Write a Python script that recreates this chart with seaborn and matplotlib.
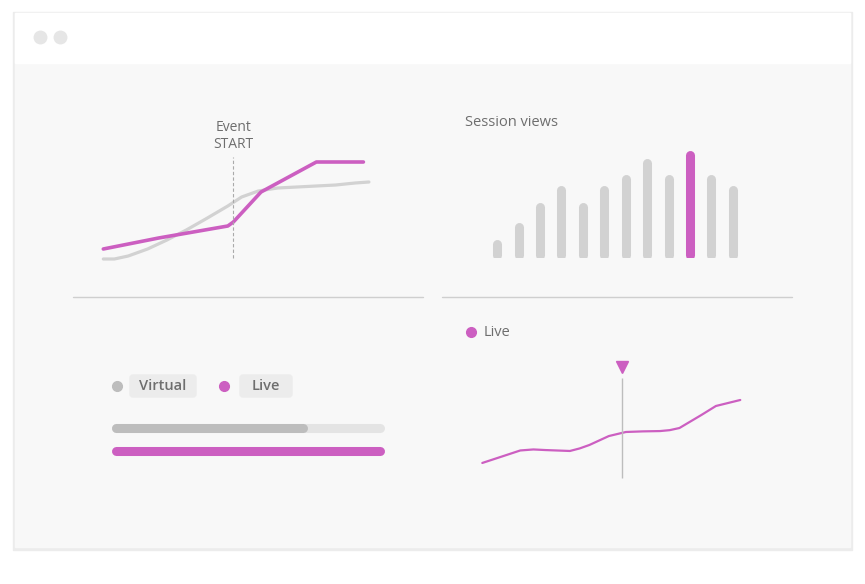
import matplotlib
matplotlib.use("Agg")
import matplotlib.pyplot as plt
from matplotlib.patches import FancyBboxPatch, Rectangle
import seaborn as sns
import pandas as pd

sns.set_style("white")
plt.rcParams["font.family"] = "Open Sans"

PINK = "#cc5fc1"
GRAY = "#d2d2d2"
TEXT = "#6e6e6e"

# top-left: event chart
live_x = [0, 2, 4.5, 4.7, 5.7, 7.7, 9.4]
live_y = [1.6, 2.7, 3.9, 4.3, 7.3, 10.3, 10.3]
virt_x = [0, 0.4, 0.9, 1.6, 2.3, 3.0, 3.7, 4.5, 5.0, 5.6, 6.3, 7.0, 7.7, 8.4, 9.1, 9.6]
virt_y = [0.6, 0.6, 0.9, 1.6, 2.5, 3.5, 4.6, 5.9, 6.8, 7.4, 7.7, 7.8, 7.9, 8.0, 8.2, 8.3]
event_x = 4.7

# top-right: session views
sessions = list(range(1, 13))
views = [14, 31, 51, 68, 51, 68, 79, 95, 79, 103, 79, 68]
highlight = 10

# bottom-left: progress bars
virtual_share = 0.71
live_share = 1.0

# bottom-right: live trend
trend_x = [0, 0.8, 1.56, 2.1, 2.6, 3.6, 4.0, 4.4, 5.2, 5.9, 6.6, 7.3, 7.7, 8.1, 9.0, 9.6, 10.6]
trend_y = [1.37, 2.0, 2.6, 2.7, 2.64, 2.55, 2.8, 3.14, 4.02, 4.42, 4.48, 4.51, 4.6, 4.81, 6.09, 6.98, 7.57]
marker_x = 5.76

W, H = 865, 584
fig = plt.figure(figsize=(W / 100, H / 100), dpi=100)
fig.patch.set_facecolor("white")


def ax_at(x0, y0, x1, y1):
    ax = fig.add_axes([x0 / W, 1 - y1 / H, (x1 - x0) / W, (y1 - y0) / H])
    ax.set_facecolor("none")
    ax.axis("off")
    return ax


# window frame
bg = ax_at(0, 0, W, H)
bg.set_xlim(0, W)
bg.set_ylim(H, 0)
bg.add_patch(Rectangle((13, 12), 839, 538, color="#ececec", zorder=0))
bg.add_patch(Rectangle((15, 13), 835, 534, color="#f8f8f8", zorder=1))
bg.add_patch(Rectangle((15, 13), 835, 50, color="white", zorder=2))
for cx in (40, 60):
    bg.plot(cx, 37, "o", ms=9, color="#e6e6e6", zorder=3)
bg.plot([73, 423], [297, 297], color="#cfcfcf", lw=1, zorder=3)
bg.plot([442, 792], [297, 297], color="#cfcfcf", lw=1, zorder=3)
bg.plot(471, 332, "o", ms=7, color=PINK, zorder=3)

# event chart
ax1 = ax_at(95, 115, 380, 275)
sns.lineplot(x=virt_x, y=virt_y, sort=False, color=GRAY, lw=2.3, ax=ax1)
sns.lineplot(x=live_x, y=live_y, sort=False, color=PINK, lw=2.6, ax=ax1)
ax1.vlines(event_x, 0.7, 10.8, color="#aaaaaa", lw=0.8, linestyles=(0, (3, 2)))
ax1.text(event_x, 12.9, "Event\nSTART", ha="center", va="center", color=TEXT, fontsize=10, linespacing=1.15)
ax1.set_xlim(-0.3, 10)
ax1.set_ylim(-1, 15)

# session views
ax2 = ax_at(480, 146, 750, 258)
df = pd.DataFrame({"s": sessions, "v": views})
for s, v in zip(df.s, df.v):
    ax2.plot([s, s], [3, v], color=PINK if s == highlight else GRAY, lw=6.5,
             solid_capstyle="round")
ax2.set_xlim(0.2, 12.8)
ax2.set_ylim(0, 112)
fig.text(465 / W, 1 - 123 / H, "Session views", color=TEXT, fontsize=10.5, va="center")

# progress bars
ax3 = ax_at(100, 360, 400, 470)
ax3.set_xlim(0, 300)
ax3.set_ylim(110, 0)
ax3.plot(17, 26, "o", ms=7, color="#bdbdbd")
ax3.plot(124, 26, "o", ms=7, color=PINK)
for x0, w, lab in ((30, 66, "Virtual"), (140, 52, "Live")):
    ax3.add_patch(FancyBboxPatch((x0 + 3, 18), w - 6, 16, boxstyle="round,pad=3", color="#ececec"))
    ax3.text(x0 + w / 2, 26, lab, ha="center", va="center", color=TEXT, fontsize=10.5, fontweight="semibold")
x_start, x_end = 16, 280
ax3.plot([x_start, x_end], [68, 68], color="#e4e4e4", lw=6.5, solid_capstyle="round")
ax3.plot([x_start, x_start + (x_end - x_start) * virtual_share], [68, 68], color="#bdbdbd", lw=6.5, solid_capstyle="round")
ax3.plot([x_start, x_start + (x_end - x_start) * live_share], [91, 91], color=PINK, lw=6.5, solid_capstyle="round")

# live trend
ax4 = ax_at(475, 355, 750, 485)
sns.lineplot(x=trend_x, y=trend_y, sort=False, color=PINK, lw=1.6, ax=ax4)
ax4.vlines(marker_x, -0.1, 9.7, color="#bdbdbd", lw=1)
ax4.plot(marker_x, 10.8, marker="v", ms=8, color=PINK)
ax4.set_xlim(-0.3, 11)
ax4.set_ylim(-0.8, 12)
fig.text(484 / W, 1 - 332 / H, "Live", color=TEXT, fontsize=10.5, va="center")

fig.savefig("out.png", dpi=100, facecolor="white")
